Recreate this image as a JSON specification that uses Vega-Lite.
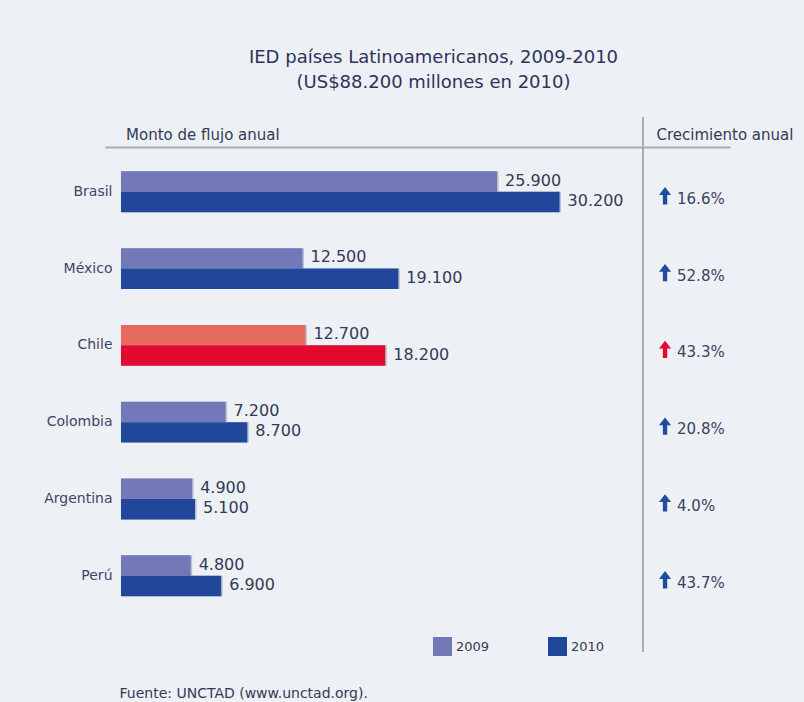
{
  "$schema": "https://vega.github.io/schema/vega-lite/v6.json",
  "autosize": "none",
  "width": 625,
  "height": 535,
  "padding": {"left": 105, "top": 117, "right": 74, "bottom": 50},
  "background": "#EDF0F5",
  "config": {
    "font": "DejaVu Sans",
    "view": {"stroke": null},
    "locale": {"number": {"decimal": ".", "thousands": ".", "grouping": [3], "currency": ["$", ""]}}
  },
  "title": {
    "text": ["IED países Latinoamericanos, 2009-2010", "(US$88.200 millones en 2010)"],
    "anchor": "middle",
    "frame": "group",
    "dx": 16,
    "offset": 24,
    "fontSize": 18,
    "fontWeight": "normal",
    "color": "#2d3459",
    "lineHeight": 25
  },
  "datasets": {
    "bars": [
      {"country": "Brasil", "year": "2009", "value": 25900},
      {"country": "Brasil", "year": "2010", "value": 30200},
      {"country": "México", "year": "2009", "value": 12500},
      {"country": "México", "year": "2010", "value": 19100},
      {"country": "Chile", "year": "2009", "value": 12700},
      {"country": "Chile", "year": "2010", "value": 18200},
      {"country": "Colombia", "year": "2009", "value": 7200},
      {"country": "Colombia", "year": "2010", "value": 8700},
      {"country": "Argentina", "year": "2009", "value": 4900},
      {"country": "Argentina", "year": "2010", "value": 5100},
      {"country": "Perú", "year": "2009", "value": 4800},
      {"country": "Perú", "year": "2010", "value": 6900}
    ],
    "growth": [
      {"country": "Brasil", "growth": 0.166},
      {"country": "México", "growth": 0.528},
      {"country": "Chile", "growth": 0.433},
      {"country": "Colombia", "growth": 0.208},
      {"country": "Argentina", "growth": 0.040},
      {"country": "Perú", "growth": 0.437}
    ]
  },
  "layer": [
    {
      "data": {"name": "bars"},
      "mark": {"type": "bar", "color": "#8a90a6", "opacity": 0.5, "xOffset": 1.5, "yOffset": 2},
      "encoding": {
        "y": {
          "field": "country", "type": "nominal",
          "scale": {"domain": ["Brasil", "México", "Chile", "Colombia", "Argentina", "Perú"], "paddingInner": 0, "paddingOuter": 0.483, "align": 0.49},
          "axis": {
            "orient": "left", "offset": -10, "domain": false, "ticks": false, "grid": false,
            "labelPadding": 3, "labelFontSize": 14, "labelColor": "#3d4466",
            "titleAngle": 0, "titleAlign": "left", "titleBaseline": "alphabetic",
            "titleX": 4, "titleY": 580, "titleFontSize": 14, "titleFontWeight": "normal", "titleColor": "#333a55"
          },
          "title": "Fuente: UNCTAD (www.unctad.org)."
        },
        "yOffset": {"field": "year", "type": "nominal", "scale": {"paddingInner": 0, "paddingOuter": 0.88}},
        "x": {
          "field": "value", "type": "quantitative",
          "scale": {"domain": [-1100, 41940], "nice": false, "zero": false},
          "axis": {
            "orient": "top", "offset": -30, "values": [317, 36846],
            "labelExpr": "datum.value < 10000 ? 'Monto de flujo anual' : 'Crecimiento anual'",
            "labelAlign": "left", "labelBaseline": "alphabetic", "labelPadding": 8,
            "labelFontSize": 15, "labelColor": "#333a55", "labelFlush": false, "labelOverlap": false, "labelBound": false,
            "ticks": false, "tickSize": 0, "grid": false,
            "domainColor": "#a8acb6", "domainWidth": 2
          },
          "title": null
        },
        "x2": {"datum": 0}
      }
    },
    {
      "data": {"name": "bars"},
      "mark": {"type": "bar"},
      "encoding": {
        "y": {"field": "country", "type": "nominal", "title": "Fuente: UNCTAD (www.unctad.org)."},
        "yOffset": {"field": "year", "type": "nominal"},
        "x": {"field": "value", "type": "quantitative", "title": null},
        "x2": {"datum": 0},
        "color": {
          "field": "year", "type": "nominal",
          "scale": {"domain": ["2009", "2010"], "range": ["#7378B8", "#21479A"]},
          "legend": {
            "orient": "none", "legendX": 328, "legendY": 520, "direction": "horizontal",
            "title": null, "symbolType": "square", "symbolSize": 361, "symbolStrokeWidth": 0,
            "symbolOpacity": 1, "labelFontSize": 13, "labelColor": "#333a55", "labelOffset": 4,
            "columnPadding": 58, "padding": 0
          },
          "condition": [
            {"test": "datum.country === 'Chile' && datum.year === '2009'", "value": "#E86A5E"},
            {"test": "datum.country === 'Chile' && datum.year === '2010'", "value": "#E30A30"}
          ]
        }
      }
    },
    {
      "data": {"name": "bars"},
      "mark": {"type": "text", "align": "left", "baseline": "middle", "dx": 8, "dy": -1, "fontSize": 16, "color": "#333a55"},
      "encoding": {
        "y": {"field": "country", "type": "nominal", "title": "Fuente: UNCTAD (www.unctad.org)."},
        "yOffset": {"field": "year", "type": "nominal"},
        "x": {"field": "value", "type": "quantitative", "title": null},
        "text": {"field": "value", "type": "quantitative", "format": ",.0f"}
      }
    },
    {
      "data": {"values": [{}]},
      "mark": {"type": "rule", "color": "#a8acb6", "strokeWidth": 2},
      "encoding": {
        "x": {"datum": 35950, "type": "quantitative", "title": null}
      }
    },
    {
      "data": {"name": "growth"},
      "mark": {
        "type": "point", "filled": true, "opacity": 1, "size": 300, "yOffset": 4,
        "shape": "M0,-1L0.7,-0.1L0.25,-0.1L0.25,1L-0.25,1L-0.25,-0.1L-0.7,-0.1Z"
      },
      "encoding": {
        "y": {"field": "country", "type": "nominal", "title": "Fuente: UNCTAD (www.unctad.org)."},
        "x": {"datum": 37466, "type": "quantitative", "title": null},
        "color": {
          "condition": {"test": "datum.country === 'Chile'", "value": "#E30A30"},
          "value": "#1F4C9C"
        }
      }
    },
    {
      "data": {"name": "growth"},
      "mark": {"type": "text", "align": "left", "baseline": "middle", "dy": 7, "fontSize": 15, "color": "#3b4262"},
      "encoding": {
        "y": {"field": "country", "type": "nominal", "title": "Fuente: UNCTAD (www.unctad.org)."},
        "x": {"datum": 38292, "type": "quantitative", "title": null},
        "text": {"field": "growth", "type": "quantitative", "format": ".1%"}
      }
    }
  ]
}
